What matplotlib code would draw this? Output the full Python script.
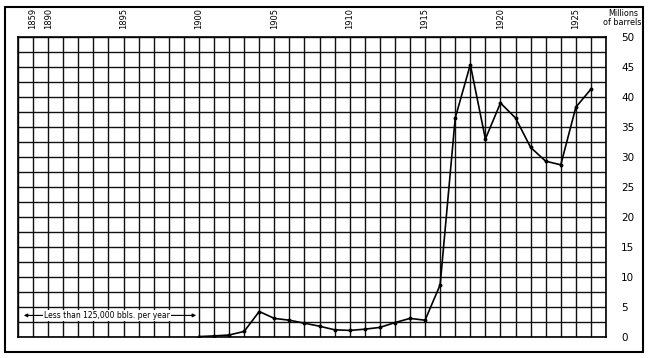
import matplotlib
matplotlib.use("Agg")
import matplotlib.pyplot as plt
from matplotlib.patches import Rectangle

# production by year, millions of barrels
years = [1900, 1901, 1902, 1903, 1904, 1905, 1906, 1907, 1908, 1909, 1910,
         1911, 1912, 1913, 1914, 1915, 1916, 1917, 1918, 1919, 1920,
         1921, 1922, 1923, 1924, 1925, 1926]
production = [0.07, 0.18, 0.33, 0.93, 4.25, 3.1, 2.8, 2.3, 1.8, 1.2, 1.1,
              1.3, 1.6, 2.4, 3.1, 2.8, 8.7, 36.5, 45.4, 33.0, 39.0,
              36.5, 31.6, 29.3, 28.7, 38.3, 41.3]

# top axis labels (1859 sits in the first column after the break)
tick_pos = [1889, 1890, 1895, 1900, 1905, 1910, 1915, 1920, 1925]
tick_labels = ["1859", "1890", "1895", "1900", "1905", "1910", "1915", "1920", "1925"]
y_ticks = [0, 5, 10, 15, 20, 25, 30, 35, 40, 45, 50]

fig = plt.figure(figsize=(6.5, 3.58), dpi=100)
ax = fig.add_axes([18 / 650, 21 / 358, 588 / 650, 300 / 358])

# grid: one line per year, one every 2.5 million barrels
for yr in range(1888, 1928):
    ax.axvline(yr, color="#111111", lw=1.0, zorder=1)
for k in range(0, 21):
    ax.axhline(k * 2.5, color="#111111", lw=1.0, zorder=1)

ax.plot(years, production, color="black", lw=1.2, marker="o", ms=1.8,
        zorder=3)

ax.set_xlim(1888, 1927)
ax.set_ylim(0, 50)

ax.xaxis.tick_top()
ax.set_xticks(tick_pos)
ax.set_xticklabels(tick_labels, rotation=90, fontsize=6)
ax.tick_params(axis="x", length=0, pad=6)

ax.yaxis.tick_right()
ax.set_yticks(y_ticks)
ax.set_yticklabels([str(v) for v in y_ticks], fontsize=7.5, ha="left")
ax.tick_params(axis="y", length=0, pad=11)

for s in ax.spines.values():
    s.set_linewidth(1.2)

# note for the early years
ax.annotate("", xy=(1888.2, 3.6), xytext=(1900, 3.6),
            arrowprops=dict(arrowstyle="<|-|>", color="black", lw=0.8,
                            mutation_scale=5), zorder=4)
ax.text(1893.9, 3.6, "Less than 125,000 bbls. per year", fontsize=5.5,
        ha="center", va="center", zorder=5,
        bbox=dict(facecolor="white", edgecolor="none", pad=0.8))

fig.text(623 / 650, 1 - 18 / 358, "Millions\nof barrels.", fontsize=5.8,
         ha="center", va="center", linespacing=1.0)

# outer frame
fig.patches.append(Rectangle((5 / 650, 6 / 358), 638 / 650, 345 / 358,
                             transform=fig.transFigure, fill=False,
                             edgecolor="black", lw=1.5))

fig.savefig("out.png", dpi=100)
